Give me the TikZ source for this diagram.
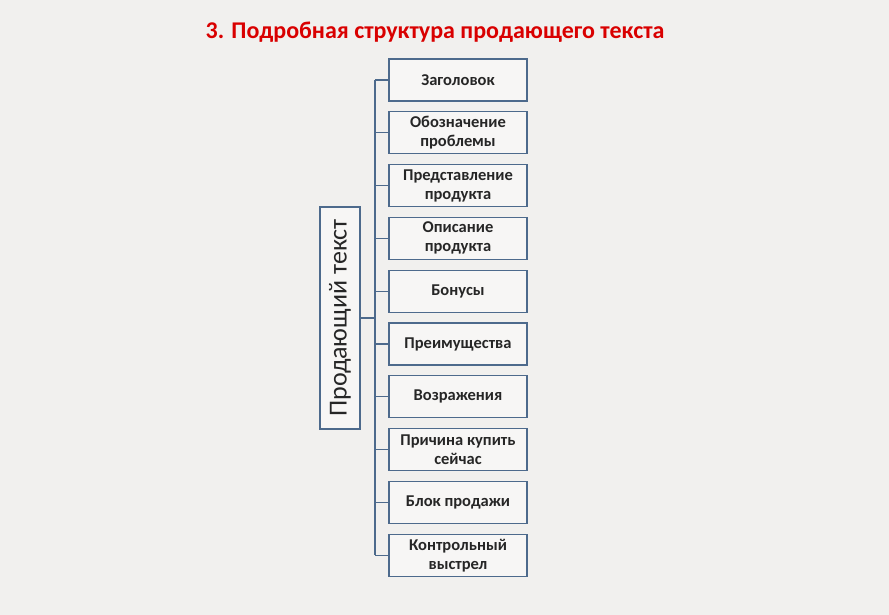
\documentclass[tikz,border=0pt]{standalone}
\usepackage{fontspec}
\setmainfont{Carlito}
\begin{document}
\begin{tikzpicture}[x=1pt,y=-1pt,
  ln/.style={draw=lineblue,line width=1.3pt},
  child/.style={ln,fill=white!40!bgc,minimum width=138pt,minimum height=42pt,align=center,font=\fontsize{16.5}{19}\selectfont\bfseries,text=black!85,inner sep=1pt}]
\definecolor{bgc}{HTML}{F1F0EE}
\definecolor{lineblue}{HTML}{4D6A8C}
\fill[bgc] (0,0) rectangle (889,615);
\useasboundingbox (0,0) rectangle (889,615);
\node[text=red!85!black,font=\fontsize{24}{28}\selectfont\bfseries] (title) at (435,32) {3. Подробная структура продающего текста};
\node[ln,fill=white!40!bgc,minimum width=222pt,minimum height=40pt,rotate=90,font=\fontsize{26}{28}\selectfont,inner sep=0pt,text=black!85] (root) at (340,318) {Продающий текст};
\coordinate (tt) at (375,80);
\coordinate (tb) at (375,555);
\coordinate (tm) at (375,318);
\draw[ln] (tt) -- (tb);
\draw[ln] (root.south) -- (tm);
\foreach \i/\t in {0/Заголовок,1/Обозначение\\проблемы,2/Представление\\продукта,3/Описание\\продукта,4/Бонусы,5/Преимущества,6/Возражения,7/Причина купить\\сейчас,8/Блок продажи,9/Контрольный\\выстрел}{
  \node[child] (c\i) at (458,{80+52.8*\i}) {\t};
  \coordinate (j\i) at (375,{80+52.8*\i});
  \draw[ln] (j\i) -- (c\i.west);
}
\end{tikzpicture}
\end{document}
